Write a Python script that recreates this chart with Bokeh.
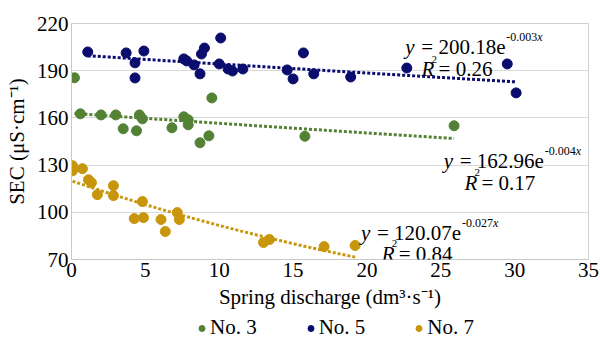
from bokeh.plotting import figure
from bokeh.models import Label, Legend, LegendItem, Range1d, FixedTicker
from bokeh.layouts import column
from bokeh.embed import file_html
from bokeh.resources import INLINE
import numpy as np

# ---- data ----
no3_x = [0.2, 0.6, 2.0, 3.0, 3.5, 4.4, 4.6, 4.8, 6.8, 7.6, 7.9, 7.9, 8.7, 9.3, 9.5, 15.8, 25.9]
no3_y = [185.5, 162.6, 161.9, 161.9, 153.1, 151.8, 161.9, 159.4, 153.7, 160.7, 158.8, 155.6, 144.2, 148.6, 172.7, 148.3, 155.0]

no5_x = [1.1, 3.7, 4.3, 4.3, 4.9, 7.6, 7.8, 8.3, 8.7, 8.8, 9.0, 10.1, 10.0, 10.6, 10.9, 11.6, 14.6, 15.0, 15.7, 16.4, 18.9, 22.7, 29.5, 30.1]
no5_y = [201.9, 201.3, 195.0, 185.4, 202.5, 197.5, 196.2, 193.7, 188.0, 200.6, 204.4, 210.8, 194.3, 191.1, 189.8, 191.1, 190.5, 184.8, 201.3, 188.0, 186.0, 191.7, 194.3, 175.9]

no7_x = [0.07, 0.07, 0.74, 1.15, 1.35, 1.75, 2.84, 2.84, 4.25, 4.8, 4.87, 6.06, 6.35, 7.16, 7.3, 13.0, 13.4, 17.1, 19.2]
no7_y = [129.6, 126.4, 127.7, 120.7, 118.8, 111.2, 116.9, 110.6, 96.0, 106.8, 96.6, 95.4, 87.8, 99.8, 95.4, 80.8, 82.7, 78.2, 78.9]

series_names = ["No. 3", "No. 5", "No. 7"]
fit_a = [162.96, 200.18, 120.07]
fit_b = [-0.004, -0.003, -0.027]
fit_r2 = ["0.17", "0.26", "0.84"]
fit_coef_txt = ["162.96", "200.18", "120.07"]
fit_exp_txt = ["-0.004", "-0.003", "-0.027"]

x_ticks = [0, 5, 10, 15, 20, 25, 30, 35]
y_ticks = [70, 100, 130, 160, 190, 220]

colors = ["#548235", "#0b0d6e", "#c8960c"]
FONT = "Liberation Serif"

p = figure(width=600, height=313, output_backend="svg", toolbar_location=None,
           x_range=Range1d(0, 35), y_range=Range1d(70, 220),
           min_border_left=71, min_border_right=12, min_border_top=23, min_border_bottom=54)

p.outline_line_color = "#d0d0d0"
p.xgrid.grid_line_color = None
p.ygrid.grid_line_color = "#d9d9d9"
p.ygrid.ticker = FixedTicker(ticks=y_ticks)
p.xaxis.ticker = FixedTicker(ticks=x_ticks)
p.yaxis.ticker = FixedTicker(ticks=y_ticks)

for ax in (p.xaxis, p.yaxis):
    ax.axis_line_color = "#c8c8c8"
    ax.major_tick_line_color = None
    ax.minor_tick_line_color = None
    ax.major_tick_out = 0
    ax.major_tick_in = 0
    ax.major_label_text_font = FONT
    ax.major_label_text_font_size = "21px"
    ax.major_label_text_color = "black"
    ax.axis_label_text_font = FONT
    ax.axis_label_text_font_size = "21px"
    ax.axis_label_text_font_style = "normal"
    ax.axis_label_text_color = "black"

p.xaxis.major_label_standoff = 3
p.xaxis.axis_label_standoff = 5
p.yaxis.major_label_standoff = 3
p.yaxis.axis_label_standoff = 5
p.xaxis.axis_label = "Spring discharge (dm³·s⁻¹)"
p.yaxis.axis_label = "SEC (μS·cm⁻¹)"

xs_all = [no3_x, no5_x, no7_x]
ys_all = [no3_y, no5_y, no7_y]
for i in range(3):
    # trend line from the fitted equation over the data's x span
    xf = np.linspace(min(xs_all[i]), max(xs_all[i]), 60)
    yf = fit_a[i] * np.exp(fit_b[i] * xf)
    p.line(xf, yf, line_color=colors[i], line_width=3, line_dash="3 2")
for i in range(3):
    p.scatter(xs_all[i], ys_all[i], size=10, fill_color=colors[i], line_color=colors[i])

# equation annotations: (x, y) anchor of "y" line and of "R²" line
eq_pos = [(25.2, 132.8), (22.6, 205.1), (19.6, 87.1)]
r2_pos = [(26.6, 118.8), (23.7, 190.9), (21.0, 73.8)]

def lab(x, y, text, size, style="normal", dx=0, dy=0):
    p.add_layout(Label(x=x, y=y, text=text, x_offset=dx, y_offset=dy,
                       text_font=FONT, text_font_size=size, text_font_style=style,
                       text_baseline="alphabetic", text_align="left", text_color="black"))

for i in range(3):
    ex, ey = eq_pos[i]
    lab(ex, ey, "y", "21px", "italic")
    lab(ex, ey, "= " + fit_coef_txt[i] + "e", "21px", dx=16)
    lab(ex, ey, fit_exp_txt[i], "12px", dx=101, dy=10)
    lab(ex, ey, "x", "12px", "italic", dx=132, dy=10)
    rx, ry = r2_pos[i]
    lab(rx, ry, "R", "21px", "italic")
    lab(rx, ry, "2", "11px", dx=10, dy=10)
    lab(rx, ry, "= " + fit_r2[i], "21px", dx=17)

# ---- legend strip below the chart (same data, ranges kept away from it) ----
lg = figure(width=600, height=27, output_backend="svg", toolbar_location=None,
            x_range=Range1d(1000, 1001), y_range=Range1d(1000, 1001),
            x_axis_type=None, y_axis_type=None,
            min_border_left=0, min_border_right=0, min_border_top=0, min_border_bottom=0)
lg.outline_line_color = None
lg.grid.visible = False
items = []
for i in range(3):
    r = lg.scatter(xs_all[i], ys_all[i], size=7, fill_color=colors[i], line_color=colors[i])
    items.append(LegendItem(label=series_names[i], renderers=[r]))
legend = Legend(items=items, orientation="horizontal", location=(123, 0),
                label_text_font=FONT, label_text_font_size="21px", label_text_color="black",
                glyph_width=15, glyph_height=20, label_standoff=1, spacing=46,
                padding=0, margin=0, border_line_color=None,
                background_fill_alpha=0, label_height=20)
lg.add_layout(legend)

layout = column(p, lg, spacing=0)
open("out.html", "w").write(file_html(layout, INLINE))
